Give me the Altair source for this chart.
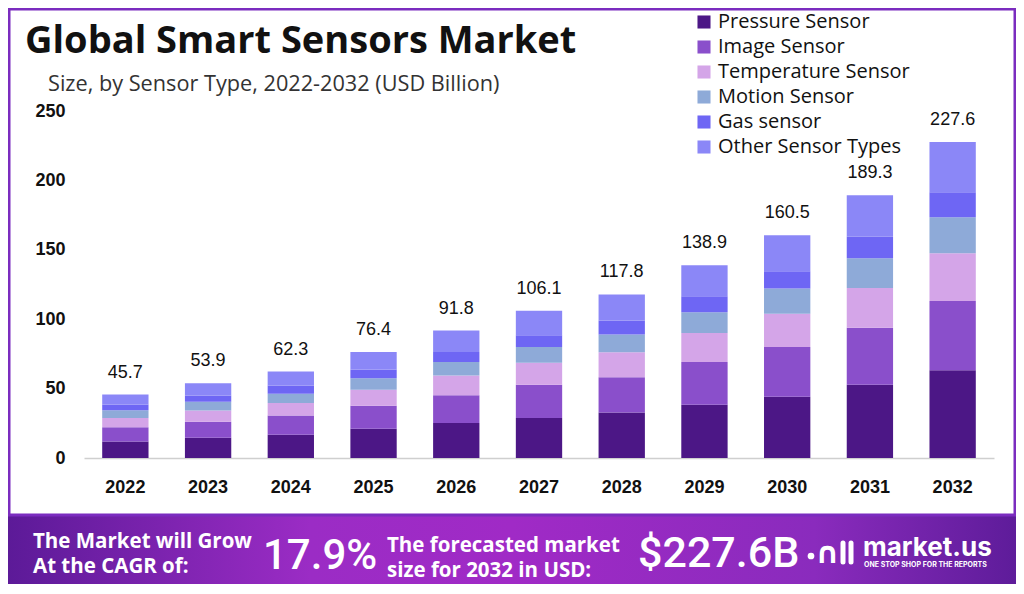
import altair as alt
import pandas as pd

years = ["2022", "2023", "2024", "2025", "2026", "2027", "2028", "2029", "2030", "2031", "2032"]
totals = [45.7, 53.9, 62.3, 76.4, 91.8, 106.1, 117.8, 138.9, 160.5, 189.3, 227.6]
segments = ["Pressure Sensor", "Image Sensor", "Temperature Sensor", "Motion Sensor", "Gas sensor", "Other Sensor Types"]
pressure = [11.8, 14.5, 16.8, 21.0, 25.3, 28.9, 32.7, 38.3, 44.1, 52.7, 63.3]
image = [10.3, 11.7, 13.8, 16.6, 19.9, 23.8, 25.5, 30.8, 35.8, 41.2, 49.9]
temperature = [6.8, 8.0, 9.1, 11.5, 14.3, 15.9, 17.9, 20.9, 24.1, 28.6, 34.4]
motion = [5.5, 6.3, 6.5, 8.4, 9.6, 11.3, 12.8, 15.0, 18.1, 21.5, 25.8]
gas = [4.1, 4.5, 6.0, 6.3, 7.2, 8.5, 10.1, 11.5, 12.5, 15.4, 18.1]
other = [7.2, 8.9, 10.1, 12.6, 15.5, 17.7, 18.8, 22.4, 25.9, 29.9, 36.1]
colors = ["#4c1786", "#8a4fcb", "#d4a5e8", "#8eaad8", "#6e66f4", "#8b87f7"]

series = [pressure, image, temperature, motion, gas, other]
rows = []
for si, (name, vals) in enumerate(zip(segments, series)):
    for y, v in zip(years, vals):
        rows.append({"Year": y, "Segment": name, "Value": v, "Order": si})
df = pd.DataFrame(rows)
tot = pd.DataFrame({"Year": years, "Total": totals})

FONT = "Open Sans"
NUM = "Liberation Sans"

xenc = alt.X("Year:N", sort=years, scale=alt.Scale(paddingInner=0.44, paddingOuter=0.22),
             axis=alt.Axis(title=None, labelAngle=0, ticks=False, domainColor="#cfcfcf", domainWidth=1.5,
                           labelPadding=20, labelFont=NUM, labelFontSize=18, labelFontWeight="bold",
                           labelColor="#111111"))

bars = alt.Chart(df).mark_bar().encode(
    x=xenc,
    y=alt.Y("Value:Q", stack="zero", scale=alt.Scale(domain=[0, 250], nice=False),
            axis=alt.Axis(title=None, grid=False, domain=False, ticks=False, values=[0, 50, 100, 150, 200, 250],
                          labelPadding=19, labelFont=NUM, labelFontSize=18, labelFontWeight="bold",
                          labelColor="#111111")),
    color=alt.Color("Segment:N", sort=segments, scale=alt.Scale(domain=segments, range=colors),
                    legend=alt.Legend(title=None, orient="none", legendX=610, legendY=-99,
                                      symbolType="square", symbolSize=170, symbolStrokeWidth=0,
                                      labelFont=FONT, labelFontSize=20, labelColor="#111111",
                                      labelLimit=0, rowPadding=5, labelOffset=4)),
    order=alt.Order("Order:Q", sort="ascending"),
)

labels = alt.Chart(tot).mark_text(font=NUM, fontSize=18, color="#111111", dy=-17, baseline="alphabetic").encode(
    x=alt.X("Year:N", sort=years), y=alt.Y("Total:Q"), text=alt.Text("Total:Q", format=".1f")
)

one = pd.DataFrame({"a": [0]})

def txt(s, x, y, size, weight="normal", color="#111111", font=FONT, align="left", baseline="alphabetic", lh=None):
    kw = {}
    if lh is not None:
        kw["lineHeight"] = lh
    return alt.Chart(one).mark_text(text=s, font=font, fontSize=size, fontWeight=weight, color=color,
                                    align=align, baseline=baseline, **kw).encode(x=alt.value(x), y=alt.value(y))

title = txt("Global Smart Sensors Market", -59, -58, 38, "bold")
subtitle = txt("Size, by Sensor Type, 2022-2032 (USD Billion)", -36, -20, 21.7, "normal", "#333333")

grad = alt.Gradient(gradient="linear", x1=0, x2=1, y1=0, y2=0,
                    stops=[alt.GradientStop(color="#5c1a98", offset=0),
                           alt.GradientStop(color="#9b2cc5", offset=0.3),
                           alt.GradientStop(color="#a02ac6", offset=0.5),
                           alt.GradientStop(color="#8a2bbd", offset=0.8),
                           alt.GradientStop(color="#5e1c9a", offset=1)])
banner = alt.Chart(one).mark_rect(color=grad).encode(
    x=alt.value(-76), x2=alt.value(932), y=alt.value(404), y2=alt.value(473))

frame = alt.Chart(one).mark_rect(fill="transparent", stroke="#7b2cbf", strokeWidth=3).encode(
    x=alt.value(-75), x2=alt.value(931), y=alt.value(-102), y2=alt.value(404))

W = "#ffffff"
b1 = txt(["The Market will Grow", "At the CAGR of:"], -51, 437, 20.5, "bold", W, lh=25)
b3 = txt("17.9%", 179, 458, 42, 500, W, "Roboto")
b4 = txt(["The forecasted market", "size for 2032 in USD:"], 303, 441, 20.5, "bold", W, lh=25)
b6 = txt("$227.6B", 554, 456, 43, 500, W, "Roboto")
b7 = txt("market.us", 779, 445, 26, "bold", W, "Inter")
b8 = txt("ONE STOP SHOP FOR THE REPORTS", 780, 456, 7, "bold", W, "Inter")

dot = alt.Chart(one).mark_point(filled=True, size=45, color=W, opacity=1).encode(x=alt.value(727), y=alt.value(445))
arch = txt("\u2229", 731, 452, 30, "bold", W, "DejaVu Sans")
bar1 = alt.Chart(one).mark_rule(color=W, strokeWidth=5, strokeCap="round").encode(
    x=alt.value(759), y=alt.value(432), y2=alt.value(451))
bar2 = alt.Chart(one).mark_rule(color=W, strokeWidth=5, strokeCap="round").encode(
    x=alt.value(767), y=alt.value(432), y2=alt.value(451))

chart = alt.layer(banner, frame, bars, labels, title, subtitle, b1, b3, b4, b6, b7, b8,
                  dot, arch, bar1, bar2).properties(
    width=910, height=347, autosize=alt.AutoSizeParams(type="none"),
    padding={"left": 76, "top": 103, "right": 22, "bottom": 126},
    background="#ffffff",
).configure_view(stroke=None)

chart.save("out.html", embed_options={"renderer": "svg", "actions": False})
